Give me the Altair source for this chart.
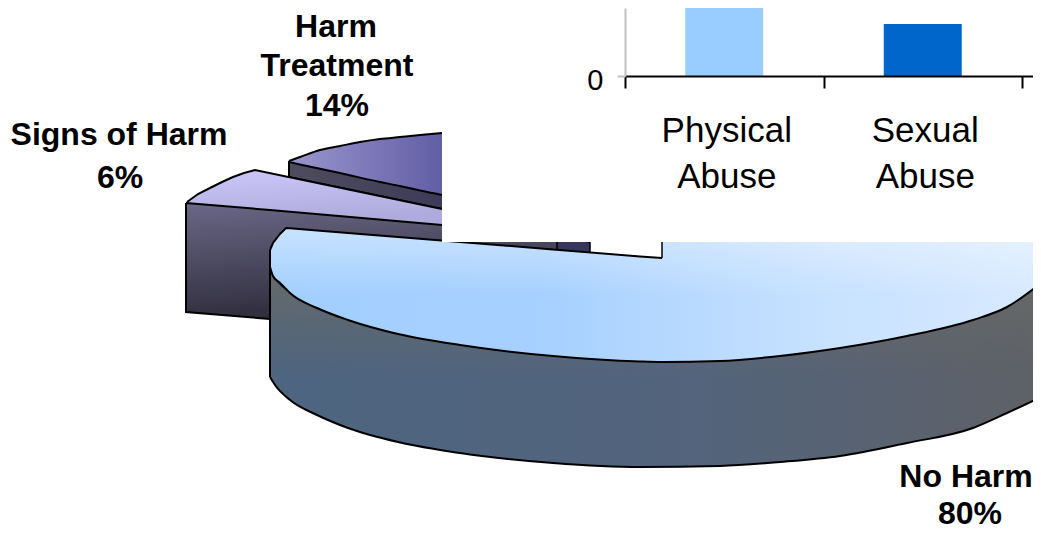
import altair as alt
import pandas as pd

# ---- values (page pixels) ----
treat_x = [289, 300, 320, 340, 360, 380, 400, 420, 442]
treat_up = [161, 157, 150, 146, 142, 139, 137, 135, 133]
treat_lo = [162, 164.4, 168.7, 173, 177.6, 182, 186, 190.6, 195]

treat_side_x = [289, 442, 590]
treat_side_up = [162, 195, 227]
treat_side_lo = [177, 209, 242]

inner_x = [557, 590]
inner_up = [225, 225]
inner_lo = [262, 262]

signs_x = [187, 198, 210, 222, 233, 244, 255, 442]
signs_up = [202, 194, 188, 182, 177, 173, 170, 209]
signs_lo = [203, 204, 205, 206, 207, 208, 209, 225]

signs_side_x = [186, 270, 442, 557]
signs_side_up = [203, 210, 225, 235]
signs_side_lo = [312, 319, 319, 319]

noharm_x = [270, 273, 280, 286, 290, 317, 348, 398, 460, 553, 640, 662, 662.5, 720, 780, 840, 907, 973, 1007, 1041]
noharm_up = [250, 243, 234, 228, 228.3, 230.5, 233, 237, 242, 249.5, 256.4, 258, 240, 240, 240, 240, 240, 240, 240, 240]
noharm_lo = [267, 276, 283, 289, 293, 308, 320, 334, 345, 356, 361.5, 362, 362, 361, 356, 348, 336, 320, 307, 283]

wall_x = [270, 275, 290, 317, 348, 398, 460, 553, 640, 720, 780, 840, 907, 973, 1007, 1041]
wall_up = [267, 279, 293, 308, 320, 334, 345, 356, 361.5, 361, 356, 348, 336, 320, 307, 283]
wall_lo = [377, 385, 400, 415, 428, 442, 453, 463, 467, 466, 462, 456, 443, 428, 413, 397]

apex_x = [662, 662]
apex_y = [242, 258]

cover_x = [442]
cover_x2 = [1033]
cover_y = [8]
cover_y2 = [242]

pie_text = ["Harm", "Treatment", "14%", "Signs of Harm", "6%", "No Harm", "80%"]
pie_text_x = [336, 337, 337, 119, 120, 966, 970]
pie_text_y = [37, 76, 116, 145, 188, 487, 524]

categories = ["Physical Abuse", "Sexual Abuse", " "]
bar_values = [90, 52]

# ---- scales ----
XS = alt.Scale(domain=[8, 1033], nice=False, zero=False)
YS = alt.Scale(domain=[8, 531], nice=False, zero=False, reverse=True)
X = alt.X("x:Q", scale=XS, axis=None)
Y = alt.Y("y:Q", scale=YS, axis=None)


def grad(stops, x1=0, y1=0, x2=1, y2=0):
    return alt.Gradient(
        gradient="linear",
        stops=[alt.GradientStop(color=c, offset=o) for o, c in stops],
        x1=x1, y1=y1, x2=x2, y2=y2,
    )


def area(xs, up, lo, fill, interp="monotone"):
    d = pd.DataFrame({"x": xs, "y": up, "y2": lo})
    return alt.Chart(d).mark_area(fill=fill, interpolate=interp, clip=True).encode(x=X, y=Y, y2=alt.Y2("y2:Q"))


def line(xs, ys, w=2.0, interp="monotone"):
    d = pd.DataFrame({"x": xs, "y": ys, "i": range(len(xs))})
    return alt.Chart(d).mark_line(color="#000000", strokeWidth=w, interpolate=interp, clip=True).encode(
        x=X, y=Y, order="i:Q")


layers = []

# Harm Treatment slice
layers += [
    area(treat_side_x, treat_side_up, treat_side_lo, grad([(0, "#4f4c5e"), (1, "#2c2a55")]), "linear"),
    area(inner_x, inner_up, inner_lo, "#38365f", "linear"),
    area(treat_x, treat_up, treat_lo, grad([(0, "#9a96cc"), (1, "#625ea6")])),
    line(treat_x, treat_up), line(treat_x, treat_lo),
    line(treat_side_x, treat_side_lo, interp="linear"),
    line([289, 289], [161, 177], 2, "linear"),
]
# Signs of Harm slice
layers += [
    area(signs_x, signs_up, signs_lo, grad([(0, "#ccc8fa"), (1, "#aeaadb")], 0, 0, 0.3, 1), "linear"),
    area(signs_side_x, signs_side_up, signs_side_lo, grad([(0, "#6b6888"), (1, "#2e2c3a")], 0, 0, 0.25, 1), "linear"),
    line(signs_x, signs_up, 2, "linear"), line(signs_side_x, signs_side_up, interp="linear"),
    line([186, 186, 270], [203, 312, 319], 2, "linear"),
    line([557, 557], [225, 262], 1.5, "linear"), line([590, 590], [225, 262], 1.5, "linear"),
]
# No Harm slice
layers += [
    area(wall_x, wall_up, wall_lo, grad([(0, "#4d6580"), (0.55, "#53647c"), (1, "#5e6167")])),
    area(wall_x, wall_up, wall_lo, grad([(0, "rgba(104,106,102,0.9)"), (0.55, "rgba(104,106,102,0)")], 0, 0, 0, 1)),
    area(noharm_x, noharm_up, noharm_lo, grad([(0, "#a2cfff"), (0.35, "#a6d0ff"), (0.7, "#c6e1ff"), (1, "#d8eaff")])),
    area(noharm_x, noharm_up, noharm_lo, grad([(0, "rgba(255,255,255,0.4)"), (0.5, "rgba(255,255,255,0)")], 0, 0, 0, 1)),
    line(noharm_x[:12], noharm_up[:12], 2, "linear"),
    line(noharm_x, noharm_lo),
    line(wall_x, wall_lo),
    line([270, 270], [250, 377], 2, "linear"),
    line(apex_x, apex_y, 1.5, "linear"),
]

# White panel of the chart that overlaps the pie
cover = pd.DataFrame({"x": cover_x, "x2": cover_x2, "y": cover_y, "y2": cover_y2})
layers.append(
    alt.Chart(cover).mark_rect(fill="#ffffff").encode(x=X, x2=alt.X2("x2:Q"), y=Y, y2=alt.Y2("y2:Q"))
)

# Pie labels
labels = pd.DataFrame({"x": pie_text_x, "y": pie_text_y, "t": pie_text})
layers.append(
    alt.Chart(labels).mark_text(
        font="Liberation Sans", fontSize=32, fontWeight="bold", color="#000000",
        align="center", baseline="alphabetic",
    ).encode(x=X, y=Y, text="t:N")
)

# Bar chart
bars = pd.DataFrame({"cat": categories[:2], "v": bar_values, "c": ["#99CCFF", "#0066CC"]})
layers.append(
    alt.Chart(bars).mark_bar(clip=True, size=78).encode(
        x=alt.X(
            "cat:N", sort=categories,
            scale=alt.Scale(domain=categories, range=[617, 1212.5], paddingInner=0, paddingOuter=0),
            axis=alt.Axis(
                title=None, orient="bottom", offset=-455, labelAngle=0,
                domainColor="#000000", domainWidth=2, tickColor="#000000", tickWidth=2, tickSize=12,
                tickBand="extent", labelFont="Liberation Sans", labelFontSize=35, labelColor="#000000",
                labelExpr="split(datum.label, ' ')", labelLineHeight=46, labelPadding=25, zindex=1,
                grid=False, labelOverlap=False, labelFlush=False, labelOffset=2,
            ),
        ),
        y=alt.Y(
            "v:Q",
            scale=alt.Scale(domain=[0, 68], range=[68, 0], nice=False, zero=True),
            axis=alt.Axis(
                title=None, orient="left", offset=-617, values=[0],
                domainColor="#C0C0C0", domainWidth=2, tickColor="#C0C0C0", tickWidth=2, tickSize=8,
                labelFont="Liberation Sans", labelFontSize=29, labelColor="#000000", labelPadding=14,
                labelOffset=4, zindex=1, grid=False,
            ),
        ),
        fill=alt.Fill("c:N", scale=None),
    )
)

chart = (
    alt.layer(*layers)
    .resolve_scale(x="independent", y="independent")
    .properties(
        width=1025, height=523, padding=0,
        autosize=alt.AutoSizeParams(type="none"),
        background="#ffffff",
    )
    .configure_view(stroke=None)
)

chart.save("out.html", embed_options={"renderer": "svg", "actions": False})
